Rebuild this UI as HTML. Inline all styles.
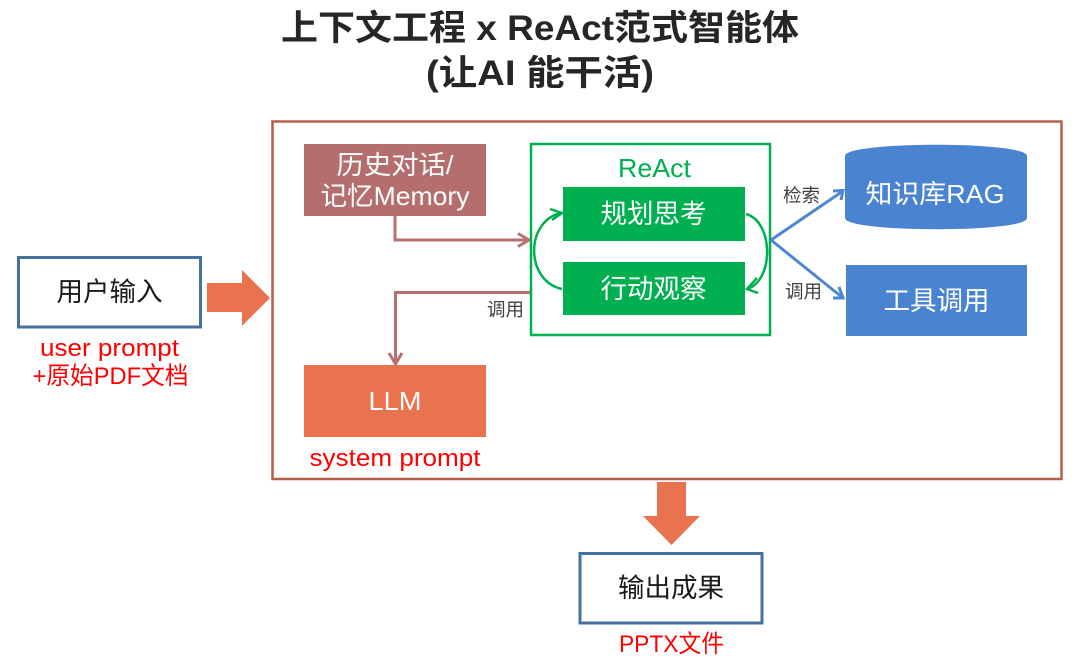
<!DOCTYPE html>
<html><head><meta charset="utf-8"><style>
html,body{margin:0;padding:0;background:#fff;width:1080px;height:669px;overflow:hidden}
svg{display:block}
text{font-family:"Liberation Sans","Noto Sans CJK SC",sans-serif;text-anchor:middle}
</style></head><body>
<svg width="1080" height="669" viewBox="0 0 1080 669" xmlns="http://www.w3.org/2000/svg">
<rect width="1080" height="669" fill="#fff"/>
<text x="540" y="40" font-size="35" font-weight="bold" fill="#262626" textLength="518" lengthAdjust="spacingAndGlyphs">上下文工程 x ReAct范式智能体</text>
<text x="540" y="85" font-size="35" font-weight="bold" fill="#262626" textLength="228" lengthAdjust="spacingAndGlyphs">(让AI 能干活)</text>

<rect x="272.5" y="121.5" width="789" height="357.5" fill="none" stroke="#b5614a" stroke-width="2.5"/>

<rect x="18.5" y="257.5" width="182" height="69.5" fill="#fff" stroke="#44729d" stroke-width="3"/>
<text x="109.5" y="301" font-size="26.5" fill="#1a1a1a">用户输入</text>
<text x="109.5" y="356" font-size="24.5" fill="#ff0000" textLength="139" lengthAdjust="spacingAndGlyphs">user prompt</text>
<text x="110.5" y="384" font-size="24.5" fill="#ff0000" textLength="156" lengthAdjust="spacingAndGlyphs">+原始PDF文档</text>
<polygon points="207,283 242,283 242,270 270,298 242,326 242,312 207,312" fill="#e8734e"/>

<rect x="304" y="144" width="182" height="72" fill="#b46e6e"/>
<text x="395" y="174" font-size="26" fill="#fff" textLength="117" lengthAdjust="spacingAndGlyphs">历史对话/</text>
<text x="395" y="205" font-size="26" fill="#fff" textLength="149" lengthAdjust="spacingAndGlyphs">记忆Memory</text>

<polyline points="395,216 395,240 527,240" fill="none" stroke="#b96f6f" stroke-width="3"/>
<polyline points="518,233.5 529,240 518,246.500" fill="none" stroke="#b96f6f" stroke-width="3"/>
<polyline points="530,292.5 395.5,292.5 395.5,362" fill="none" stroke="#b96f6f" stroke-width="3"/>
<polyline points="389,353 395.5,364 402,353" fill="none" stroke="#b96f6f" stroke-width="3"/>
<text x="505.5" y="316" font-size="18.5" fill="#404040">调用</text>

<rect x="531" y="144" width="239" height="191" fill="#fff" stroke="#00b050" stroke-width="2.5"/>
<text x="654.5" y="177" font-size="26" fill="#00b050" textLength="73" lengthAdjust="spacingAndGlyphs">ReAct</text>
<rect x="563" y="187" width="182" height="54" fill="#00b050"/>
<text x="653.5" y="223" font-size="26.5" fill="#fff">规划思考</text>
<rect x="563" y="262" width="182" height="53" fill="#00b050"/>
<text x="653.5" y="298" font-size="26.5" fill="#fff">行动观察</text>

<path d="M562,289 C525,281 525,221 561,213" fill="none" stroke="#00b050" stroke-width="2.5"/>
<polyline points="550,209 562,213 552,220" fill="none" stroke="#00b050" stroke-width="2.5"/>
<path d="M746,214 C774,222 774,281 747,289" fill="none" stroke="#00b050" stroke-width="2.5"/>
<polyline points="757,278 747,289 758,293" fill="none" stroke="#00b050" stroke-width="2.5"/>

<polyline points="771,240 843,191" fill="none" stroke="#4f86d0" stroke-width="3"/>
<polyline points="833,191 843,190.5 841,200" fill="none" stroke="#4f86d0" stroke-width="3"/>
<polyline points="771,240 843,298" fill="none" stroke="#4f86d0" stroke-width="3"/>
<polyline points="839,287 843,298 833,298" fill="none" stroke="#4f86d0" stroke-width="3"/>
<text x="801.5" y="202" font-size="18.5" fill="#404040">检索</text>
<text x="803.5" y="298" font-size="18.5" fill="#404040">调用</text>

<path d="M845,156 C845,141 1027,141 1027,156 L1027,218 C1027,233 845,233 845,218 Z" fill="#4a84d0"/>
<text x="935" y="203" font-size="26" fill="#fff" textLength="139" lengthAdjust="spacingAndGlyphs">知识库RAG</text>
<rect x="846" y="265" width="181" height="71" fill="#4a84d0"/>
<text x="936.5" y="310" font-size="26.5" fill="#fff">工具调用</text>

<rect x="304" y="365" width="182" height="72" fill="#e8734e"/>
<text x="395" y="410" font-size="26" fill="#fff" textLength="53" lengthAdjust="spacingAndGlyphs">LLM</text>
<text x="395" y="466" font-size="24.5" fill="#ff0000" textLength="171" lengthAdjust="spacingAndGlyphs">system prompt</text>

<polygon points="657,482 686,482 686,516 700,516 671.5,545 643,516 657,516" fill="#e8734e"/>
<rect x="580" y="553.5" width="182" height="69.5" fill="#fff" stroke="#44729d" stroke-width="3"/>
<text x="671" y="597" font-size="26.5" fill="#1a1a1a">输出成果</text>
<text x="671.5" y="652" font-size="24.5" fill="#ff0000" textLength="105" lengthAdjust="spacingAndGlyphs">PPTX文件</text>
</svg>
</body></html>
